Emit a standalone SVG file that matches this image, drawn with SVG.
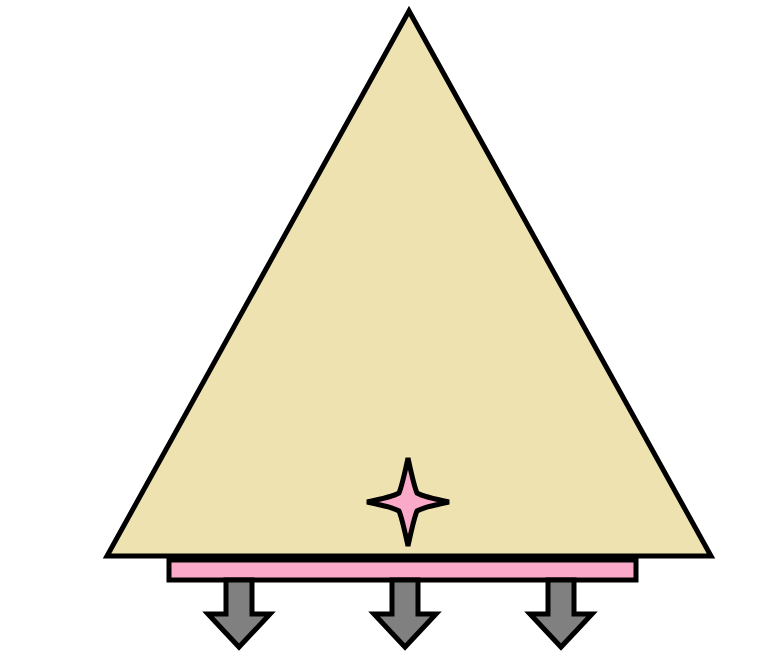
<svg xmlns="http://www.w3.org/2000/svg" width="782" height="672" viewBox="0 0 782 672">
<style>
.ln{stroke:#000;stroke-width:5;stroke-linejoin:miter}
.arrow{fill:#808080;stroke:#000;stroke-width:5;stroke-linejoin:miter}
</style>
<defs>
<path id="arr" d="M-13,580 L13,580 L13,614 L31,614 L0,647 L-31,614 L-13,614 Z"/>
</defs>
<rect width="782" height="672" fill="#fff"/>
<g id="triangle">
<polygon class="ln" points="409,11 107,556 711,556" fill="#EEE2B0"/>
</g>
<g id="bar">
<rect class="ln" x="169" y="560" width="467" height="20" fill="#FAAAC8"/>
</g>
<g id="star">
<path class="ln" fill="#FAAAC8" stroke-width="4.5" stroke-linejoin="round" d="M408,458 Q414,486 417,493 Q424,497 449,502 Q424,507 417,511 Q414,518 408,546 Q402,518 399,511 Q392,507 367,502 Q392,497 399,493 Q402,486 408,458 Z"/>
</g>
<g id="connectors">
<use href="#arr" class="arrow" x="239"/>
<use href="#arr" class="arrow" x="405"/>
<use href="#arr" class="arrow" x="561"/>
</g>
</svg>
